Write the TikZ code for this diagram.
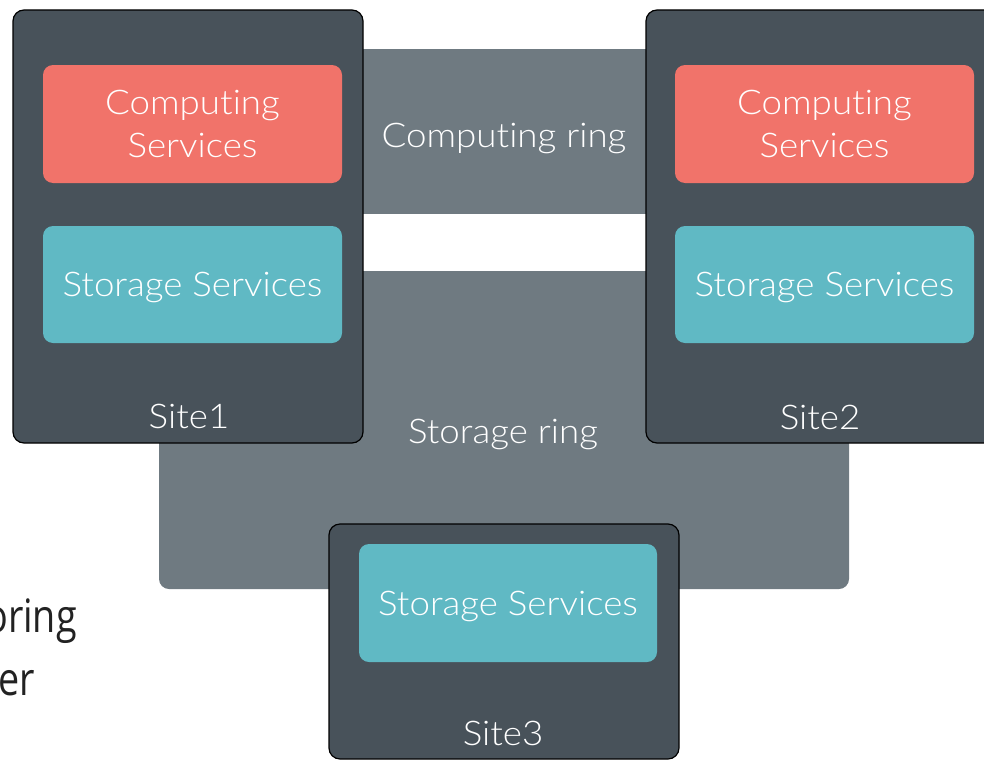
\documentclass[tikz,border=0pt]{standalone}
\usepackage{fontspec}
\setmainfont{Lato}[UprightFont=* Light, FakeStretch=1.08, Ligatures=NoCommon]
\newfontfamily\sidefont{Open Sans}
\definecolor{sitec}{HTML}{48525A}
\definecolor{ringc}{HTML}{6F7A81}
\definecolor{compc}{HTML}{F1736A}
\definecolor{storc}{HTML}{60B9C4}
\definecolor{sidetext}{HTML}{222222}
\begin{document}
\begin{tikzpicture}[x=1pt,y=-1pt,
  site/.style={draw=black, line width=1.2pt, fill=sitec, rounded corners=11pt, inner sep=0pt, minimum width=350pt},
  ring/.style={fill=ringc, inner sep=0pt},
  svc/.style={rounded corners=10pt, inner sep=0pt, minimum width=299pt, minimum height=118pt, text=white, font=\fontsize{34}{43}\selectfont, align=center, text depth=0pt},
  comp/.style={svc, fill=compc},
  stor/.style={svc, fill=storc},
  lbl/.style={text=white, font=\fontsize{34}{40}\selectfont, inner sep=0pt, anchor=base},
  side/.style={text=sidetext, font=\sidefont\fontsize{46}{50}\selectfont, inner sep=0pt, anchor=base east}
]
\useasboundingbox (0,0) rectangle (984,760);
\clip (0,0) rectangle (984,760);
% rings
\node[ring, rounded corners=10pt, minimum width=690pt, minimum height=318pt] (sring) at (504,430) {};
\node[ring, minimum width=400pt, minimum height=165pt] (cring) at (504,131.5) {};
\node[lbl] (cringt) at (504,147) {Computing ring};
\node[lbl] (sringt) at (503,443) {Storage ring};
% sites
\node[site, minimum height=433pt] (site1) at (188,226.5) {};
\node[site, minimum height=433pt] (site2) at (821,226.5) {};
\node[site, minimum height=235pt] (site3) at (504,641.5) {};
% services
\node[comp] (c1) at (192.5,124) {Computing\\Services};
\node[stor, minimum height=117pt] (s1) at (192.5,284.5) {Storage Services};
\node[comp] (c2) at (824.5,124) {Computing\\Services};
\node[stor, minimum height=117pt] (s2) at (824.5,284.5) {Storage Services};
\node[stor, minimum width=298pt] (s3) at (508,603) {Storage Services};
% site labels
\node[lbl] (site1t) at (189,428) {Site1};
\node[lbl] (site2t) at (820,429) {Site2};
\node[lbl] (site3t) at (503,745) {Site3};
% cut-off text on the left
\node[side] (left1) at (77,632) {\scalebox{0.82}[1]{oring}};
\node[side] (left2) at (35,695) {\scalebox{0.82}[1]{er}};
\end{tikzpicture}
\end{document}
